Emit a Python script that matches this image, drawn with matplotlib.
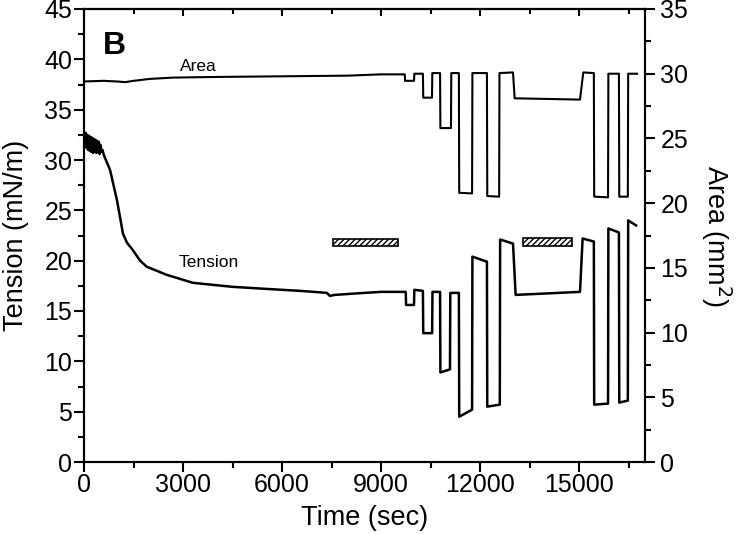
import matplotlib
matplotlib.use("Agg")
import matplotlib.pyplot as plt
from matplotlib.patches import Rectangle
from matplotlib.ticker import MultipleLocator

plt.rcParams['font.family'] = ['Liberation Sans', 'DejaVu Sans']

# Area trace (right axis, mm^2)
area_t = [0, 600, 1000, 1250, 1500, 2000, 2700, 4000, 6000, 8000, 9000, 9720,
          9730, 10000, 10010, 10270, 10280, 10545, 10555, 10790, 10800, 11120,
          11130, 11360, 11370, 11760, 11770, 12210, 12220, 12580, 12590, 13000,
          13050, 15030, 15130, 15450, 15460, 15880, 15890, 16210, 16220, 16480,
          16490, 16760]
area_v = [29.4, 29.45, 29.4, 29.35, 29.45, 29.6, 29.7, 29.75, 29.8, 29.85, 29.95, 29.95,
          29.45, 29.45, 30.0, 30.0, 28.15, 28.15, 30.05, 30.05, 25.8, 25.8,
          30.05, 30.05, 20.8, 20.75, 30.05, 30.05, 20.55, 20.5, 30.05, 30.1,
          28.1, 28.0, 30.1, 30.05, 20.5, 20.45, 30.0, 30.0, 20.5, 20.5,
          30.0, 30.0]

# Tension trace (left axis, mN/m)
tension_t = [0, 25, 50, 75, 100, 125, 150, 175, 200, 225, 250, 275, 300, 325, 350,
             375, 400, 425, 450, 475, 500, 530, 560, 600, 790, 1000, 1180, 1300,
             1490, 1700, 1900, 2200, 2500, 2900, 3300, 4500, 5500, 6550, 7360, 7450,
             7600, 8500, 9000, 9750, 9760, 10000, 10010, 10270, 10280, 10550, 10560,
             10790, 10800, 11090, 11100, 11360, 11370, 11760, 11770, 12210, 12220,
             12600, 12610, 13000, 13080, 15030, 15110, 15450, 15460, 15880, 15890,
             16210, 16220, 16480, 16490, 16730]
tension_v = [32.6, 31.4, 32.7, 31.2, 32.5, 31.0, 32.4, 30.9, 32.3, 30.8, 32.2, 30.7, 32.1, 30.8, 32.0,
             30.7, 31.9, 30.8, 31.8, 30.6, 31.5, 30.8, 31.0, 30.5, 29.0, 26.0, 22.7, 21.8,
             21.0, 20.0, 19.4, 19.0, 18.6, 18.2, 17.8, 17.4, 17.2, 17.0, 16.8, 16.5,
             16.6, 16.8, 16.9, 16.9, 15.6, 15.6, 17.1, 17.0, 12.8, 12.8, 16.9,
             16.9, 8.9, 9.2, 16.8, 16.8, 4.5, 5.2, 20.4, 19.9, 5.5,
             5.7, 22.1, 21.7, 16.6, 16.9, 22.2, 21.9, 5.7, 5.8, 23.2,
             22.8, 5.9, 6.1, 24.0, 23.5]

# Hatched bars (start time, end time, lower, upper in mN/m)
bar_start = [7550, 13300]
bar_end = [9510, 14790]
bar_low = [21.5, 21.5]
bar_high = [22.2, 22.3]

fig = plt.figure(figsize=(7.36, 5.34), dpi=100)
ax = fig.add_axes([84 / 736, (534 - 462) / 534, (645 - 84) / 736, (462 - 9) / 534])
ax2 = ax.twinx()

ax.plot(tension_t, tension_v, color='black', lw=1.8)
ax2.plot(area_t, area_v, color='black', lw=1.5)

for s, e, lo, hi in zip(bar_start, bar_end, bar_low, bar_high):
    ax.add_patch(Rectangle((s, lo), e - s, hi - lo, facecolor='white',
                           edgecolor='black', hatch='//////', lw=1.2))

ax.set_xlim(0, 17000)
ax.set_ylim(0, 45)
ax2.set_ylim(0, 35)

ax.xaxis.set_major_locator(MultipleLocator(3000))
ax.xaxis.set_minor_locator(MultipleLocator(1500))
ax.yaxis.set_major_locator(MultipleLocator(5))
ax.yaxis.set_minor_locator(MultipleLocator(2.5))
ax2.yaxis.set_major_locator(MultipleLocator(5))
ax2.yaxis.set_minor_locator(MultipleLocator(2.5))

for a in (ax, ax2):
    for sp in a.spines.values():
        sp.set_linewidth(1.5)

ax.tick_params(axis='both', which='major', direction='out', length=7, width=1.5,
               labelsize=18, top=False)
ax.tick_params(axis='both', which='minor', direction='out', length=4.5, width=1.5, top=False)
ax.tick_params(axis='x', which='major', pad=1)
ax.tick_params(axis='y', which='major', pad=1.5)
ax2.tick_params(axis='y', which='major', direction='out', length=7, width=1.5,
                labelsize=18, pad=4)
ax2.tick_params(axis='y', which='minor', direction='out', length=4.5, width=1.5)

# inward ticks on top spine
axt = ax.secondary_xaxis('top')
axt.xaxis.set_major_locator(MultipleLocator(3000))
axt.xaxis.set_minor_locator(MultipleLocator(1500))
axt.tick_params(axis='x', which='major', direction='in', length=5, width=1.5, labeltop=False)
axt.tick_params(axis='x', which='minor', direction='in', length=3.5, width=1.5)
axt.spines['top'].set_linewidth(1.5)

ax.set_xlabel('Time (sec)', fontsize=19.5, labelpad=6)
ax.set_ylabel('Tension (mN/m)', fontsize=19.5, va='center')
ax.yaxis.set_label_coords(-0.122, 0.5)
ax2.set_ylabel('Area (mm$^2$)', fontsize=19.5, rotation=270, va='center')
ax2.yaxis.set_label_coords(1.127, 0.5)

ax.text(560, 41.3, 'B', fontsize=23, fontweight='bold', ha='left', va='center')
ax.text(3470, 39.3, 'Area', fontsize=12.5, ha='center', va='center')
ax.text(3790, 19.8, 'Tension', fontsize=12.5, ha='center', va='center')

fig.savefig('out.png', dpi=100)
